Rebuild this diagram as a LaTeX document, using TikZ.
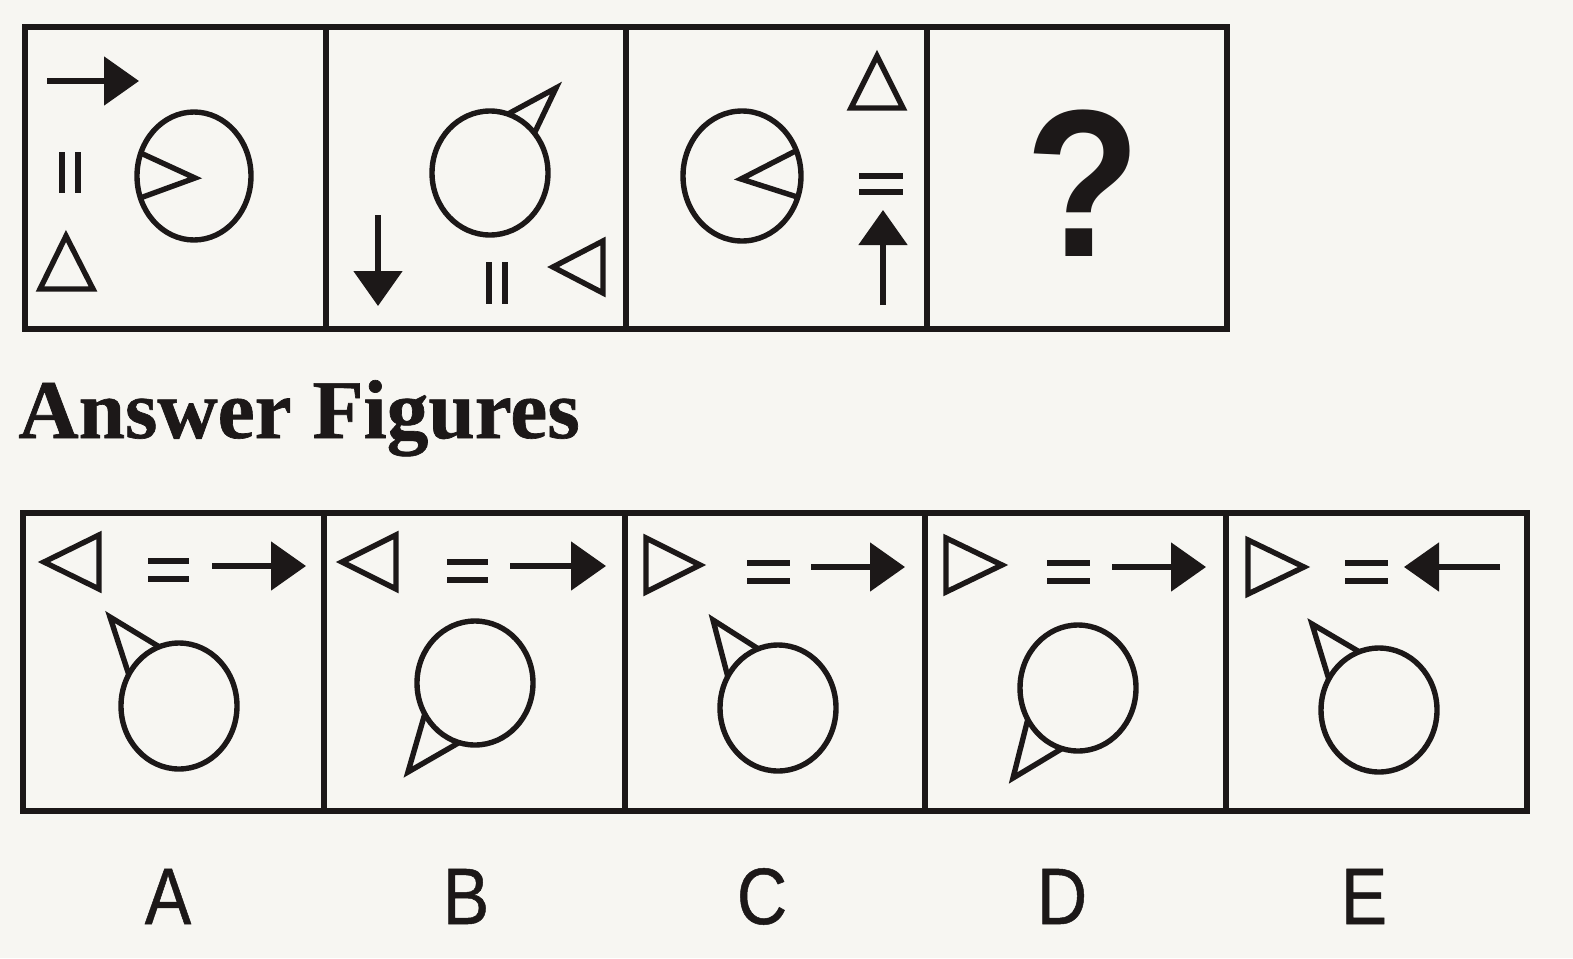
\documentclass[tikz,border=0pt]{standalone}
\usepackage{fontspec}
\setmainfont{Liberation Serif}
\newfontfamily\titlefont[FakeBold=0.8]{Liberation Serif Bold}
\newfontfamily\lettersans[FakeStretch=0.87,FakeBold=0.6]{Liberation Sans}
\newfontfamily\qmarkfont[FakeStretch=0.9]{Liberation Sans Bold}
\usetikzlibrary{arrows.meta,calc}
\definecolor{paper}{RGB}{247,246,242}
\definecolor{ink}{RGB}{28,24,24}

\begin{document}
\begin{tikzpicture}[x=0.5pt,y=-0.5pt,
    frame/.style={ink, line width=3pt},
    shapeline/.style={ink, line width=2.7pt, line join=miter},
    bar/.style={ink, line width=3pt},
    blackarrow/.style={ink, line width=2.6pt, -{Triangle[length=17.5pt,width=24pt]}},
    letter/.style={ink, anchor=base, inner sep=0pt, font=\lettersans\fontsize{40}{40}\selectfont}]
            \fill[paper] (0,0) rectangle (1573,958);
            \useasboundingbox (0,0) rectangle (1573,958);
            % problem figures
            \draw[frame] (25,27) rectangle (1227,329);
            \draw[frame] (325.5,27) -- (325.5,329);
            \draw[frame] (626,27) -- (626,329);
            \draw[frame] (926.5,27) -- (926.5,329);
            % figure 1
            \draw[blackarrow] (47,81) -- (139,81);
            \draw[bar] (62,152) -- (62,193) (78,152) -- (78,193);
            \draw[shapeline] (66,236) -- (93,289) -- (40,289) -- cycle;
            \coordinate (e1) at (194,176);
            \draw[shapeline] (e1) ellipse (57 and 64);
            \draw[shapeline] ($(e1)+(201:57 and 64)$) -- ($(e1)+(1,2)$) -- ($(e1)+(160:57 and 64)$);
            % figure 2
            \coordinate (e2) at (490,173);
            \draw[shapeline] (e2) ellipse (58 and 62);
            \draw[shapeline] ($(e2)+(288:58 and 62)$) -- (556,88) -- ($(e2)+(320:58 and 62)$);
            \draw[blackarrow] (378,215) -- (378,306);
            \draw[bar] (489,262) -- (489,304) (505,262) -- (505,304);
            \draw[shapeline] (553,267) -- (603,241) -- (603,293) -- cycle;
            % figure 3
            \coordinate (e3) at (742,176);
            \draw[shapeline] (e3) ellipse (59 and 65);
            \draw[shapeline] ($(e3)+(337:59 and 65)$) -- ($(e3)+(-1,3)$) -- ($(e3)+(19:59 and 65)$);
            \draw[shapeline] (877,56) -- (903,108) -- (851,108) -- cycle;
            \draw[bar] (859,176) -- (903,176) (859,192) -- (903,192);
            \draw[blackarrow] (883,305) -- (883,210);
            % figure 4
            \node[ink, anchor=south, inner sep=0pt, font=\qmarkfont\fontsize{105}{105}\selectfont] (qmark) at (1083,257) {?};
            \node[ink, anchor=base west, inner sep=0pt, font=\titlefont\fontsize{41.7}{41.7}\selectfont] (title) at (18,438) {Answer Figures};
            % answer figures
            \draw[frame] (23,513) rectangle (1527,811);
            \draw[frame] (324,513) -- (324,811);
            \draw[frame] (624.5,513) -- (624.5,811);
            \draw[frame] (925,513) -- (925,811);
            \draw[frame] (1226,513) -- (1226,811);
            % A
            \draw[shapeline] (44,562) -- (99,535) -- (99,589) -- cycle;
            \draw[bar] (148,561) -- (189,561) (148,579) -- (189,579);
            \draw[blackarrow] (212,566) -- (306,566);
            \coordinate (ea) at (179,706);
            \draw[shapeline] (ea) ellipse (58 and 63);
            \draw[shapeline] ($(ea)+(250:58 and 63)$) -- (110,617) -- ($(ea)+(210:58 and 63)$);
            % B
            \draw[shapeline] (342,562) -- (396,535) -- (396,589) -- cycle;
            \draw[bar] (447,562) -- (488,562) (447,580) -- (488,580);
            \draw[blackarrow] (510,566) -- (606,566);
            \coordinate (eb) at (475,683);
            \draw[shapeline] (eb) ellipse (58 and 62);
            \draw[shapeline] ($(eb)+(150:58 and 62)$) -- (408,772) -- ($(eb)+(106:58 and 62)$);
            % C
            \draw[shapeline] (700,565) -- (646,538) -- (646,592) -- cycle;
            \draw[bar] (747,563) -- (790,563) (747,581) -- (790,581);
            \draw[blackarrow] (811,567) -- (905,567);
            \coordinate (ec) at (778,708);
            \draw[shapeline] (ec) ellipse (58 and 63);
            \draw[shapeline] ($(ec)+(250:58 and 63)$) -- (713,620) -- ($(ec)+(210:58 and 63)$);
            % D
            \draw[shapeline] (1002,565) -- (946,538) -- (946,592) -- cycle;
            \draw[bar] (1047,563) -- (1090,563) (1047,581) -- (1090,581);
            \draw[blackarrow] (1112,567) -- (1206,567);
            \coordinate (ed) at (1078,688);
            \draw[shapeline] (ed) ellipse (58 and 63);
            \draw[shapeline] ($(ed)+(150:58 and 63)$) -- (1013,778) -- ($(ed)+(106:58 and 63)$);
            % E
            \draw[shapeline] (1304,567) -- (1248,540) -- (1248,594) -- cycle;
            \draw[bar] (1345,563) -- (1388,563) (1345,581) -- (1388,581);
            \draw[blackarrow] (1500,567) -- (1404,567);
            \coordinate (ee) at (1379,710);
            \draw[shapeline] (ee) ellipse (58 and 62);
            \draw[shapeline] ($(ee)+(250:58 and 62)$) -- (1312,624) -- ($(ee)+(210:58 and 62)$);
            % labels
            \node[letter] (labA) at (168,924) {A};
            \node[letter] (labB) at (466,924) {B};
            \node[letter] (labC) at (762,924) {C};
            \node[letter] (labD) at (1062,924) {D};
            \node[letter] (labE) at (1364,924) {E};
        \end{tikzpicture}
\end{document}
